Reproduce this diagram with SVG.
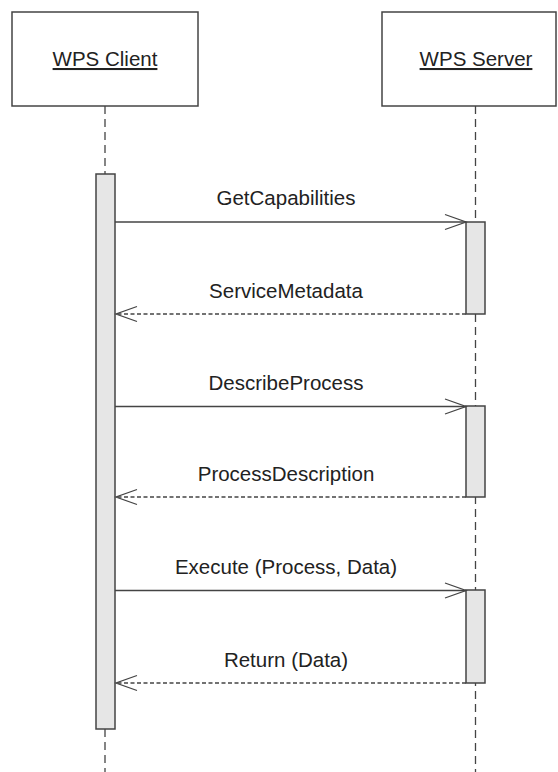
<svg xmlns="http://www.w3.org/2000/svg" width="558" height="772" viewBox="0 0 558 772">
<style>
.box{fill:#fff;stroke:#444;stroke-width:1.5}
.act{fill:#e6e6e6;stroke:#444;stroke-width:1.5}
.life{stroke:#444;stroke-width:1.3;stroke-dasharray:8 5;fill:none}
.call{stroke:#444;stroke-width:1.3;fill:none}
.ret{stroke:#444;stroke-width:1.3;stroke-dasharray:4 2.5;fill:none}
.head{stroke:#444;stroke-width:1.3;fill:none}
text{font-family:"Liberation Sans",Arial,sans-serif;font-size:20.5px;fill:#222;text-anchor:middle}
.u{text-decoration:underline}
</style>
<g id="client">
<rect class="box" x="12" y="12" width="186" height="94"/>
<text class="u" x="105" y="66">WPS Client</text>
</g>
<g id="server">
<rect class="box" x="382" y="12" width="174" height="94"/>
<text class="u" x="476" y="66">WPS Server</text>
</g>
<g id="lifelines">
<line class="life" x1="105" y1="106" x2="105" y2="174"/>
<line class="life" x1="105" y1="729" x2="105" y2="772"/>
<line class="life" x1="475.5" y1="106" x2="475.5" y2="772"/>
</g>
<g id="client-activation">
<rect class="act" x="96" y="174" width="19" height="555"/>
</g>
<g id="server-activations">
<rect class="act" x="466" y="222" width="19" height="92"/>
<rect class="act" x="466" y="406" width="19" height="91"/>
<rect class="act" x="466" y="590" width="19" height="93"/>
</g>
<g id="connectors">
<line class="call" x1="115" y1="222" x2="466" y2="222"/>
<polyline class="head" points="445,214.5 466,222 445,229.5"/>
<text x="286" y="205">GetCapabilities</text>
<line class="ret" x1="466" y1="314" x2="115" y2="314"/>
<polyline class="head" points="137,306.5 116,314 137,321.5"/>
<text x="286" y="298">ServiceMetadata</text>
<line class="call" x1="115" y1="406.5" x2="466" y2="406.5"/>
<polyline class="head" points="445,399 466,406.5 445,414"/>
<text x="286" y="390">DescribeProcess</text>
<line class="ret" x1="466" y1="497" x2="115" y2="497"/>
<polyline class="head" points="137,489.5 116,497 137,504.5"/>
<text x="286" y="481">ProcessDescription</text>
<line class="call" x1="115" y1="590.5" x2="466" y2="590.5"/>
<polyline class="head" points="445,583 466,590.5 445,598"/>
<text x="286" y="574">Execute (Process, Data)</text>
<line class="ret" x1="466" y1="683" x2="115" y2="683"/>
<polyline class="head" points="137,675.5 116,683 137,690.5"/>
<text x="286" y="667">Return (Data)</text>
</g>
</svg>
